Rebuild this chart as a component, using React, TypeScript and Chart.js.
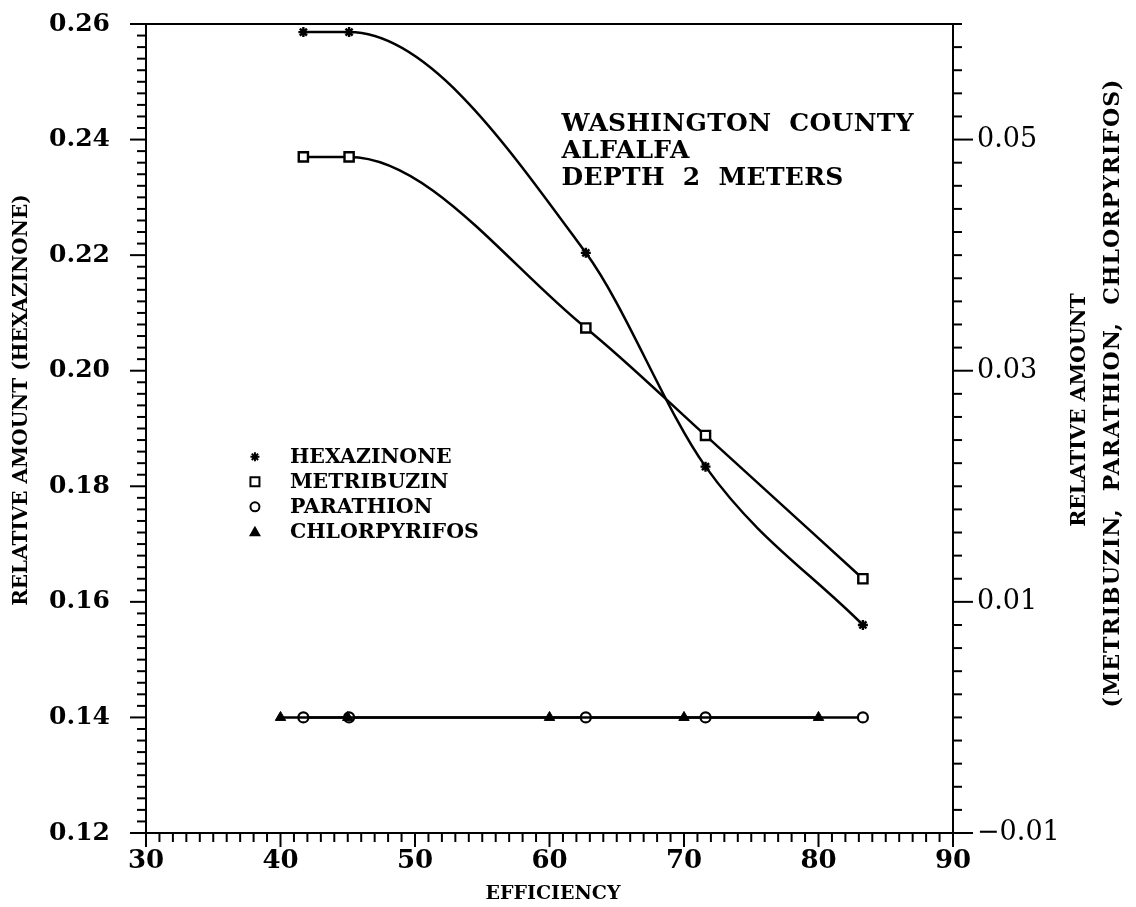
import React, { useEffect, useRef } from 'react';
import { Chart, registerables } from 'chart.js';

Chart.register(...registerables);

// ---------- data ----------
const efficiencyMain = [41.7, 45.1, 62.7, 71.6, 83.3];
const hexazinone = [0.2586, 0.2586, 0.2204, 0.1834, 0.156];
const metribuzin = [0.0485, 0.0485, 0.0337, 0.0244, 0.012];
const parathion = [0, 0, 0, 0, 0];
const efficiencyChlor = [40, 45, 60, 70, 80];
const chlorpyrifos = [0, 0, 0, 0, 0];

const xTicks = [30, 40, 50, 60, 70, 80, 90];
const leftTicks = [0.12, 0.14, 0.16, 0.18, 0.2, 0.22, 0.24, 0.26];
const rightTicks = [-0.01, 0.01, 0.03, 0.05];
const xMinorStep = 1;
const yMinorStep = 0.002;
const y2MinorStep = 0.002;

const annotationLines = ['WASHINGTON  COUNTY', 'ALFALFA', 'DEPTH  2  METERS'];
const legendLabels = ['HEXAZINONE', 'METRIBUZIN', 'PARATHION', 'CHLORPYRIFOS'];
const legendMarkers = ['star', 'rect', 'circle', 'triangle'];
const xTitle = 'EFFICIENCY';
const leftTitle = 'RELATIVE AMOUNT (HEXAZINONE)';
const rightTitle1 = 'RELATIVE AMOUNT';
const rightTitle2 = '(METRIBUZIN,  PARATHION,  CHLORPYRIFOS)';

const SERIF = '"DejaVu Serif", serif';

function drawMarker(ctx: CanvasRenderingContext2D, kind: string, x: number, y: number) {
  ctx.save();
  ctx.strokeStyle = '#000';
  ctx.fillStyle = '#000';
  ctx.lineWidth = 2;
  if (kind === 'star') {
    const r = 4.5;
    ctx.beginPath();
    for (let i = 0; i < 4; i++) {
      const a = (i * Math.PI) / 4;
      ctx.moveTo(x - r * Math.cos(a), y - r * Math.sin(a));
      ctx.lineTo(x + r * Math.cos(a), y + r * Math.sin(a));
    }
    ctx.stroke();
  } else if (kind === 'rect') {
    ctx.fillStyle = '#fff';
    ctx.beginPath();
    ctx.rect(x - 4.5, y - 4.5, 9, 9);
    ctx.fill();
    ctx.stroke();
  } else if (kind === 'circle') {
    ctx.fillStyle = '#fff';
    ctx.beginPath();
    ctx.arc(x, y, 4.5, 0, Math.PI * 2);
    ctx.fill();
    ctx.stroke();
  } else {
    ctx.beginPath();
    ctx.moveTo(x, y - 6);
    ctx.lineTo(x + 6, y + 4.5);
    ctx.lineTo(x - 6, y + 4.5);
    ctx.closePath();
    ctx.fill();
  }
  ctx.restore();
}

const decorPlugin = {
  id: 'decor',
  afterDraw(chart: any) {
    const ctx: CanvasRenderingContext2D = chart.ctx;
    const { left, right, top, bottom } = chart.chartArea;
    const xs = chart.scales.x;
    const ys = chart.scales.y;
    const y2 = chart.scales.y2;
    ctx.save();
    ctx.strokeStyle = '#000';
    ctx.lineWidth = 2;
    ctx.lineCap = 'butt';

    // top frame line
    ctx.beginPath();
    ctx.moveTo(left - 1, top);
    ctx.lineTo(right + 1, top);
    ctx.stroke();

    // left axis ticks (outward)
    const nY = Math.round((ys.max - ys.min) / yMinorStep);
    for (let k = 0; k <= nY; k++) {
      const py = ys.getPixelForValue(ys.min + k * yMinorStep);
      const len = k % 10 === 0 ? 16 : 9;
      ctx.beginPath();
      ctx.moveTo(left - len, py);
      ctx.lineTo(left, py);
      ctx.stroke();
    }
    // right axis ticks (outward)
    const nY2 = Math.round((y2.max - y2.min) / y2MinorStep);
    for (let k = 0; k <= nY2; k++) {
      const py = y2.getPixelForValue(y2.min + k * y2MinorStep);
      const len = k % 10 === 0 ? 20 : 9;
      ctx.beginPath();
      ctx.moveTo(right, py);
      ctx.lineTo(right + len, py);
      ctx.stroke();
    }
    // x axis ticks (downward)
    const nX = Math.round((xs.max - xs.min) / xMinorStep);
    for (let k = 0; k <= nX; k++) {
      const px = xs.getPixelForValue(xs.min + k * xMinorStep);
      const len = k % 10 === 0 ? 14 : 9;
      ctx.beginPath();
      ctx.moveTo(px, bottom);
      ctx.lineTo(px, bottom + len);
      ctx.stroke();
    }

    // annotation block
    ctx.fillStyle = '#000';
    ctx.font = `bold 25px ${SERIF}`;
    (ctx as any).letterSpacing = '0.3px';
    ctx.textAlign = 'left';
    ctx.textBaseline = 'alphabetic';
    const ax = xs.getPixelForValue(60.9);
    const ay = ys.getPixelForValue(0.2415);
    annotationLines.forEach((t, i) => ctx.fillText(t, ax, ay + i * 27));
    (ctx as any).letterSpacing = '0px';

    // legend
    ctx.font = `bold 20.5px ${SERIF}`;
    ctx.textBaseline = 'middle';
    const mx = xs.getPixelForValue(38.1);
    const tx = xs.getPixelForValue(40.7);
    const ly = ys.getPixelForValue(0.1851);
    legendLabels.forEach((t, i) => {
      drawMarker(ctx, legendMarkers[i], mx, ly + i * 25);
      ctx.fillText(t, tx, ly + i * 25 + 1);
    });

    // axis titles
    ctx.textAlign = 'center';
    ctx.font = `bold 19px ${SERIF}`;
    ctx.fillText(xTitle, 553, bottom + 61);

    ctx.save();
    ctx.translate(22, 400);
    ctx.rotate(-Math.PI / 2);
    ctx.font = `bold 20px ${SERIF}`;
    ctx.fillText(leftTitle, 0, 0);
    ctx.restore();

    ctx.save();
    ctx.translate(1080, 410);
    ctx.rotate(-Math.PI / 2);
    ctx.font = `bold 20.5px ${SERIF}`;
    ctx.fillText(rightTitle1, 0, 0);
    ctx.restore();

    ctx.save();
    ctx.translate(1113, 393);
    ctx.rotate(-Math.PI / 2);
    ctx.font = `bold 22px ${SERIF}`;
    (ctx as any).letterSpacing = '1px';
    ctx.fillText(rightTitle2, 0, 0);
    (ctx as any).letterSpacing = '0px';
    ctx.restore();

    ctx.restore();
  },
};

export default function App() {
  const canvasRef = useRef<HTMLCanvasElement | null>(null);

  useEffect(() => {
    const canvas = canvasRef.current;
    if (!canvas) return;
    const toPts = (xs: number[], ys: number[]) => xs.map((x, i) => ({ x, y: ys[i] }));
    const chart = new Chart(canvas, {
      type: 'line',
      data: {
        datasets: [
          {
            label: 'CHLORPYRIFOS',
            data: toPts(efficiencyChlor, chlorpyrifos),
            yAxisID: 'y2',
            borderColor: '#000',
            backgroundColor: '#000',
            borderWidth: 2.5,
            pointStyle: 'triangle',
            pointRadius: 6,
            pointBorderWidth: 1,
            tension: 0,
          },
          {
            label: 'PARATHION',
            data: toPts(efficiencyMain, parathion),
            yAxisID: 'y2',
            borderColor: '#000',
            backgroundColor: '#fff',
            borderWidth: 2.5,
            pointStyle: 'circle',
            pointRadius: 5,
            pointBorderWidth: 2.2,
            tension: 0,
          },
          {
            label: 'METRIBUZIN',
            data: toPts(efficiencyMain, metribuzin),
            yAxisID: 'y2',
            borderColor: '#000',
            backgroundColor: '#fff',
            borderWidth: 2.5,
            pointStyle: 'rect',
            pointRadius: 6.5,
            pointBorderWidth: 2.4,
            cubicInterpolationMode: 'monotone',
          },
          {
            label: 'HEXAZINONE',
            data: toPts(efficiencyMain, hexazinone),
            yAxisID: 'y',
            borderColor: '#000',
            backgroundColor: '#000',
            borderWidth: 2.5,
            pointStyle: 'star',
            pointRadius: 5,
            pointBorderWidth: 2.4,
            cubicInterpolationMode: 'monotone',
          },
        ],
      },
      options: {
        animation: false,
        responsive: false,
        layout: { padding: { top: 24, left: 0, right: 0, bottom: 0 } },
        plugins: { legend: { display: false }, tooltip: { enabled: false } },
        scales: {
          x: {
            type: 'linear',
            min: 30,
            max: 90,
            afterBuildTicks: (s: any) => {
              s.ticks = xTicks.map((v) => ({ value: v }));
            },
            afterFit: (s: any) => {
              s.height = 74;
              s.paddingLeft = 0;
              s.paddingRight = 0;
            },
            grid: { display: false, drawTicks: false },
            border: { display: true, color: '#000', width: 2 },
            ticks: {
              autoSkip: false,
              maxRotation: 0,
              padding: 13,
              color: '#000',
              font: { family: SERIF, size: 26, weight: 'bold' },
              callback: (v: any) => String(v),
            },
          },
          y: {
            type: 'linear',
            position: 'left',
            min: 0.12,
            max: 0.26,
            afterBuildTicks: (s: any) => {
              s.ticks = leftTicks.map((v) => ({ value: v }));
            },
            afterFit: (s: any) => {
              s.width = 146;
              s.paddingTop = 0;
              s.paddingBottom = 0;
            },
            grid: { display: false, drawTicks: false },
            border: { display: true, color: '#000', width: 2 },
            ticks: {
              autoSkip: false,
              padding: 36,
              color: '#000',
              font: { family: SERIF, size: 25, weight: 'bold' },
              callback: (v: any) => Number(v).toFixed(2),
            },
          },
          y2: {
            type: 'linear',
            position: 'right',
            min: -0.01,
            max: 0.06,
            afterBuildTicks: (s: any) => {
              s.ticks = rightTicks.map((v) => ({ value: v }));
            },
            afterFit: (s: any) => {
              s.width = 183;
              s.paddingTop = 0;
              s.paddingBottom = 0;
            },
            grid: { display: false, drawTicks: false },
            border: { display: true, color: '#000', width: 2 },
            ticks: {
              autoSkip: false,
              padding: 24,
              color: '#000',
              font: { family: SERIF, size: 27 },
              callback: (v: any) => {
                const n = Number(v);
                return (n < 0 ? '\u2212' : '') + Math.abs(n).toFixed(2);
              },
            },
          },
        },
      },
      plugins: [decorPlugin],
    } as any);
    return () => chart.destroy();
  }, []);

  return (
    <div style={{ position: 'fixed', left: 0, top: 0, width: 1136, height: 907, background: '#fff' }}>
      <canvas ref={canvasRef} width={1136} height={907} style={{ display: 'block' }} />
    </div>
  );
}
